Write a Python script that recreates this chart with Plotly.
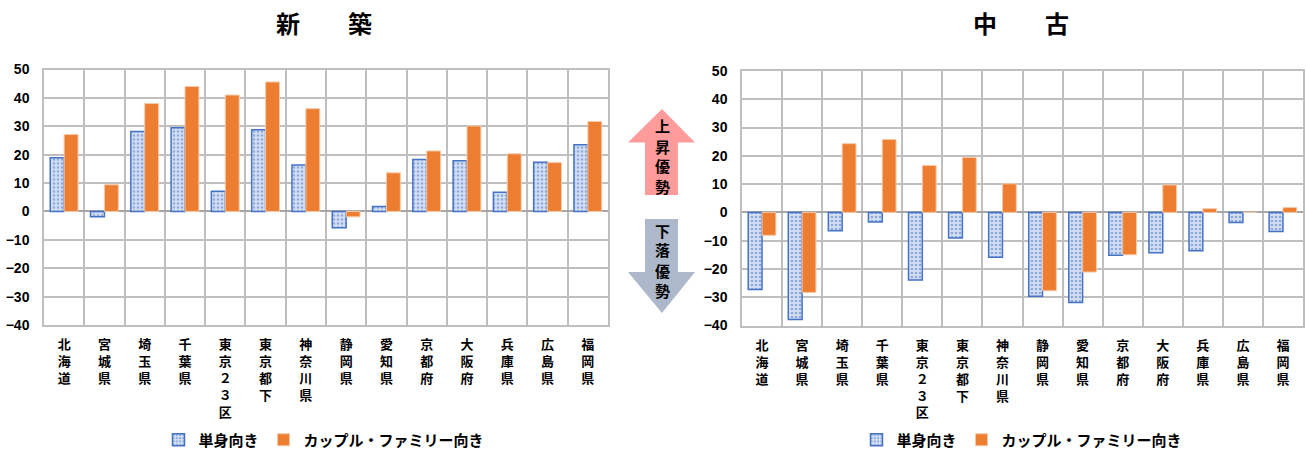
import plotly.graph_objects as go

W, H = 1306, 454

categories = ["北海道", "宮城県", "埼玉県", "千葉県", "東京２３区", "東京都下", "神奈川県",
              "静岡県", "愛知県", "京都府", "大阪府", "兵庫県", "広島県", "福岡県"]
new_single = [18.9, -1.9, 28.2, 29.5, 7.1, 28.8, 16.4, -5.7, 1.7, 18.3, 17.9, 6.8, 17.3, 23.5]
new_family = [27.1, 9.4, 38.0, 44.0, 41.0, 45.6, 36.2, -1.9, 13.6, 21.3, 30.1, 20.3, 17.2, 31.7]
used_single = [-27.3, -37.9, -6.5, -3.4, -23.9, -9.1, -15.9, -29.7, -31.9, -15.2, -14.3, -13.6, -3.6, -6.8]
used_family = [-8.1, -28.3, 24.3, 25.8, 16.6, 19.4, 10.1, -27.7, -21.1, -15.0, 9.7, 1.3, 0.0, 1.7]
series_names = ["単身向き", "カップル・ファミリー向き"]
titles = ["新　　築", "中　　古"]
y_ticks = [50, 40, 30, 20, 10, 0, -10, -20, -30, -40]

labels = ["<br>".join(list(c)) for c in categories]

FONT = "Noto Sans CJK JP"
BLUE = "#4472c4"
BLUE_BG = "#d4dff3"
ORANGE = "#ed7d31"
GRID = "#bfbfbf"


def px(x):
    return x / W


def py(y):
    return 1 - y / H


fig = go.Figure()

def single_bar(vals, xa, ya, leg):
    return go.Bar(x=labels, y=vals, name=series_names[0], xaxis=xa, yaxis=ya, legend=leg,
                  marker=dict(color=BLUE_BG, line=dict(color=BLUE, width=1.5),
                              pattern=dict(shape=".", fgcolor=BLUE, bgcolor=BLUE_BG,
                                           size=4, solidity=0.35)))

def family_bar(vals, xa, ya, leg):
    return go.Bar(x=labels, y=vals, name=series_names[1], xaxis=xa, yaxis=ya, legend=leg,
                  marker=dict(color=ORANGE, line=dict(color="#f8c9a8", width=1)))

fig.add_trace(single_bar(new_single, "x", "y", "legend"))
fig.add_trace(family_bar(new_family, "x", "y", "legend"))
fig.add_trace(single_bar(used_single, "x2", "y2", "legend2"))
fig.add_trace(family_bar(used_family, "x2", "y2", "legend2"))

xcommon = dict(type="category", tickson="boundaries", showgrid=True, gridcolor=GRID, gridwidth=1.5,
               showline=True, linecolor=GRID, linewidth=1.5, mirror=True,
               ticks="outside", ticklen=8, tickcolor="rgba(0,0,0,0)", ticklabelstandoff=7,
               tickfont=dict(family=FONT, size=13, color="#000", weight="bold"),
               tickangle=0, fixedrange=True, automargin=False)
ycommon = dict(range=[-40, 50], tickvals=y_ticks, showgrid=True, gridcolor=GRID, gridwidth=1.5,
               zeroline=True, zerolinecolor="#a6a6a6", zerolinewidth=1.5,
               showline=True, linecolor=GRID, linewidth=1.5, mirror=True,
               ticks="outside", ticklen=10, tickcolor="rgba(0,0,0,0)", automargin=False,
               tickfont=dict(family="Liberation Sans", size=14, color="#000", weight="bold"))

legend_common = dict(orientation="h", xanchor="center", yref="container", y=py(440),
                     yanchor="middle", font=dict(family=FONT, size=15, color="#000", weight="bold"),
                     itemwidth=30, bgcolor="rgba(0,0,0,0)", tracegroupgap=0)

fig.update_layout(
    width=W, height=H,
    margin=dict(l=0, r=0, t=0, b=0, autoexpand=False),
    paper_bgcolor="white", plot_bgcolor="white",
    barmode="group", bargap=0.31, bargroupgap=0,
    xaxis=dict(domain=[px(44), px(608)], anchor="y", **xcommon),
    yaxis=dict(domain=[py(325), py(69.5)], anchor="x", **ycommon),
    xaxis2=dict(domain=[px(742), px(1303)], anchor="y2", **xcommon),
    yaxis2=dict(domain=[py(325.5), py(71)], anchor="x2", **ycommon),
    legend=dict(x=px(324), **legend_common),
    legend2=dict(x=px(1022), **legend_common),
    showlegend=True,
)

# Titles
for t, xc in zip(titles, [323.5, 1021]):
    fig.add_annotation(text=t, x=px(xc), y=py(23), xref="paper", yref="paper",
                       showarrow=False, xanchor="center", yanchor="middle",
                       font=dict(family=FONT, size=24, color="#000", weight="bold"))

# Middle arrows
def path(pts):
    return "M " + " L ".join(f"{px(a):.5f},{py(b):.5f}" for a, b in pts) + " Z"

up = [(662, 109), (695, 142.5), (678, 142.5), (678, 195), (645, 195), (645, 142.5), (628, 142.5)]
down = [(645, 219), (678, 219), (678, 272), (695, 272), (662, 313), (628, 272), (645, 272)]
fig.add_shape(type="path", path=path(up), xref="paper", yref="paper",
              fillcolor="#ff9b9b", line=dict(width=0), layer="above")
fig.add_shape(type="path", path=path(down), xref="paper", yref="paper",
              fillcolor="#adb9ca", line=dict(width=0), layer="above")

for txt, y0 in [("上昇優勢", 126), ("下落優勢", 230)]:
    for i, ch in enumerate(txt):
        fig.add_annotation(text=ch, x=px(662), y=py(y0 + 20 * i), xref="paper", yref="paper",
                           showarrow=False, xanchor="center", yanchor="middle",
                           font=dict(family=FONT, size=15, color="#000", weight="bold"))

fig.write_html("out.html")
